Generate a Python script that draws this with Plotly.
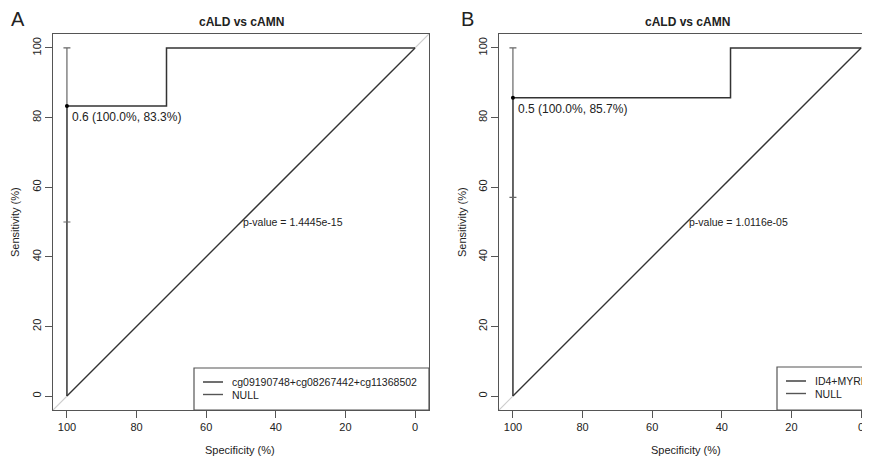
import plotly.graph_objects as go

# ---------------- data ----------------
ticks = [0, 20, 40, 60, 80, 100]
tick_labels = ["0", "20", "40", "60", "80", "100"]

specA = [100, 100, 71.4, 71.4, 0]
sensA = [0, 83.3, 83.3, 100, 100]
threshA_spec, threshA_sens = 100, 83.3
ciA_low, ciA_high = 50.0, 100.0
labelA = "0.6 (100.0%, 83.3%)"
pA = "p-value = 1.4445e-15"
legendA = ["cg09190748+cg08267442+cg11368502", "NULL"]

specB = [100, 100, 37.5, 37.5, 0]
sensB = [0, 85.7, 85.7, 100, 100]
threshB_spec, threshB_sens = 100, 85.7
ciB_low, ciB_high = 57.1, 100.0
labelB = "0.5 (100.0%, 85.7%)"
pB = "p-value = 1.0116e-05"
legendB = ["ID4+MYRF", "NULL"]

null_spec = [100, 0]
null_sens = [0, 100]
ident_spec = [104, -4]
ident_sens = [-4, 104]

title = "cALD vs cAMN"

# ---------------- layout helpers ----------------
# page body has an 8px margin: figure is placed at (8, 8) in the window
OFF = 8
W, H = 862, 450
FONT = "Liberation Sans, Arial, sans-serif"
def px(x): return (x - OFF) / W
def py(y): return 1 - (y - OFF) / H

scale = 376 / 108.0
b_right = 104 - (870 - 499) / scale

fig = go.Figure()

CURVE = "#333333"
FRAME = "#555555"

def add_panel(xa, ya, spec, sens, ts, tsens, lo, hi):
    fig.add_trace(go.Scatter(x=ident_spec, y=ident_sens, mode="lines",
                             line=dict(color="#cccccc", width=1.2),
                             xaxis=xa, yaxis=ya, showlegend=False, hoverinfo="skip"))
    fig.add_trace(go.Scatter(x=null_spec, y=null_sens, mode="lines",
                             line=dict(color=CURVE, width=1.3),
                             xaxis=xa, yaxis=ya, showlegend=False))
    fig.add_trace(go.Scatter(x=spec, y=sens, mode="lines",
                             line=dict(color=CURVE, width=1.5),
                             xaxis=xa, yaxis=ya, showlegend=False))
    fig.add_trace(go.Scatter(x=[ts], y=[tsens], mode="markers",
                             marker=dict(color="black", size=4),
                             error_y=dict(type="data", symmetric=False,
                                          array=[hi - tsens], arrayminus=[tsens - lo],
                                          color="#666666", thickness=1.2, width=3.5),
                             xaxis=xa, yaxis=ya, showlegend=False))

add_panel("x", "y", specA, sensA, threshA_spec, threshA_sens, ciA_low, ciA_high)
add_panel("x2", "y2", specB, sensB, threshB_spec, threshB_sens, ciB_low, ciB_high)

axis_common = dict(tickmode="array", tickvals=ticks, ticktext=tick_labels,
                   ticks="outside", ticklen=7, tickwidth=1, tickcolor=FRAME,
                   showline=True, linecolor=FRAME, linewidth=1.2,
                   showgrid=False, zeroline=False, ticklabeloverflow="allow",
                   tickfont=dict(family=FONT, size=11, color="#222222"))

ydom = [py(410), py(34)]
fig.update_layout(
    width=W, height=H, margin=dict(l=0, r=0, t=0, b=0),
    paper_bgcolor="white", plot_bgcolor="white", showlegend=False,
    xaxis=dict(domain=[px(53), px(429)], range=[104, -4], mirror=True, anchor="y", **axis_common),
    yaxis=dict(domain=ydom, range=[-4, 104], mirror=True, anchor="x", tickangle=-90, **axis_common),
    xaxis2=dict(domain=[px(499), 1.0], range=[104, b_right], mirror=True, anchor="y2", **axis_common),
    yaxis2=dict(domain=ydom, range=[-4, 104], mirror=False, anchor="x2", tickangle=-90, **axis_common),
)

ann = []
def text(x, y, s, size=11, bold=False, xanchor="center", yanchor="middle", xref="paper", yref="paper",
         angle=0, color="#222222", xshift=0, yshift=0):
    ann.append(dict(x=x, y=y, text=("<b>%s</b>" % s if bold else s), showarrow=False,
                    xref=xref, yref=yref, xanchor=xanchor, yanchor=yanchor, textangle=angle,
                    xshift=xshift, yshift=yshift,
                    font=dict(family=FONT, size=size, color=color)))

text(px(241), py(22), title, size=12, bold=True)
text(px(687), py(22), title, size=12, bold=True)
text(px(18), py(19), "A", size=20)
text(px(468), py(19), "B", size=20)
text(px(240), py(450), "Specificity (%)", size=11)
text(px(686), py(450), "Specificity (%)", size=11)
text(px(15), py(222), "Sensitivity (%)", size=11, angle=-90)
text(px(462), py(222), "Sensitivity (%)", size=11, angle=-90)
text(threshA_spec, threshA_sens, labelA, size=12, xref="x", yref="y", xanchor="left", yanchor="top", xshift=3, yshift=-2)
text(threshB_spec, threshB_sens, labelB, size=12, xref="x2", yref="y2", xanchor="left", yanchor="top", xshift=3, yshift=-2)
text(50, 50, pA, size=10.5, xref="x", yref="y", xanchor="left")
text(50, 50, pB, size=10.5, xref="x2", yref="y2", xanchor="left")

shapes = []
def legend(x0, y0, x1, y1, names, colors):
    shapes.append(dict(type="rect", xref="paper", yref="paper", x0=px(x0), x1=px(x1), y0=py(y1), y1=py(y0),
                       line=dict(color=FRAME, width=1.2), fillcolor="white", layer="above"))
    for i, (n, c) in enumerate(zip(names, colors)):
        yy = y0 + 14 + 12.5 * i
        shapes.append(dict(type="line", xref="paper", yref="paper", x0=px(x0 + 9), x1=px(x0 + 29),
                           y0=py(yy), y1=py(yy), line=dict(color=c, width=1.4), layer="above"))
        text(px(x0 + 36), py(yy), n, xanchor="left", size=10.5)

legend(194, 368, 429, 410, legendA, ["#333333", "#555555"])
legend(777, 367, 880, 410, legendB, ["#333333", "#555555"])

fig.update_layout(annotations=ann, shapes=shapes)
fig.write_html("out.html")
